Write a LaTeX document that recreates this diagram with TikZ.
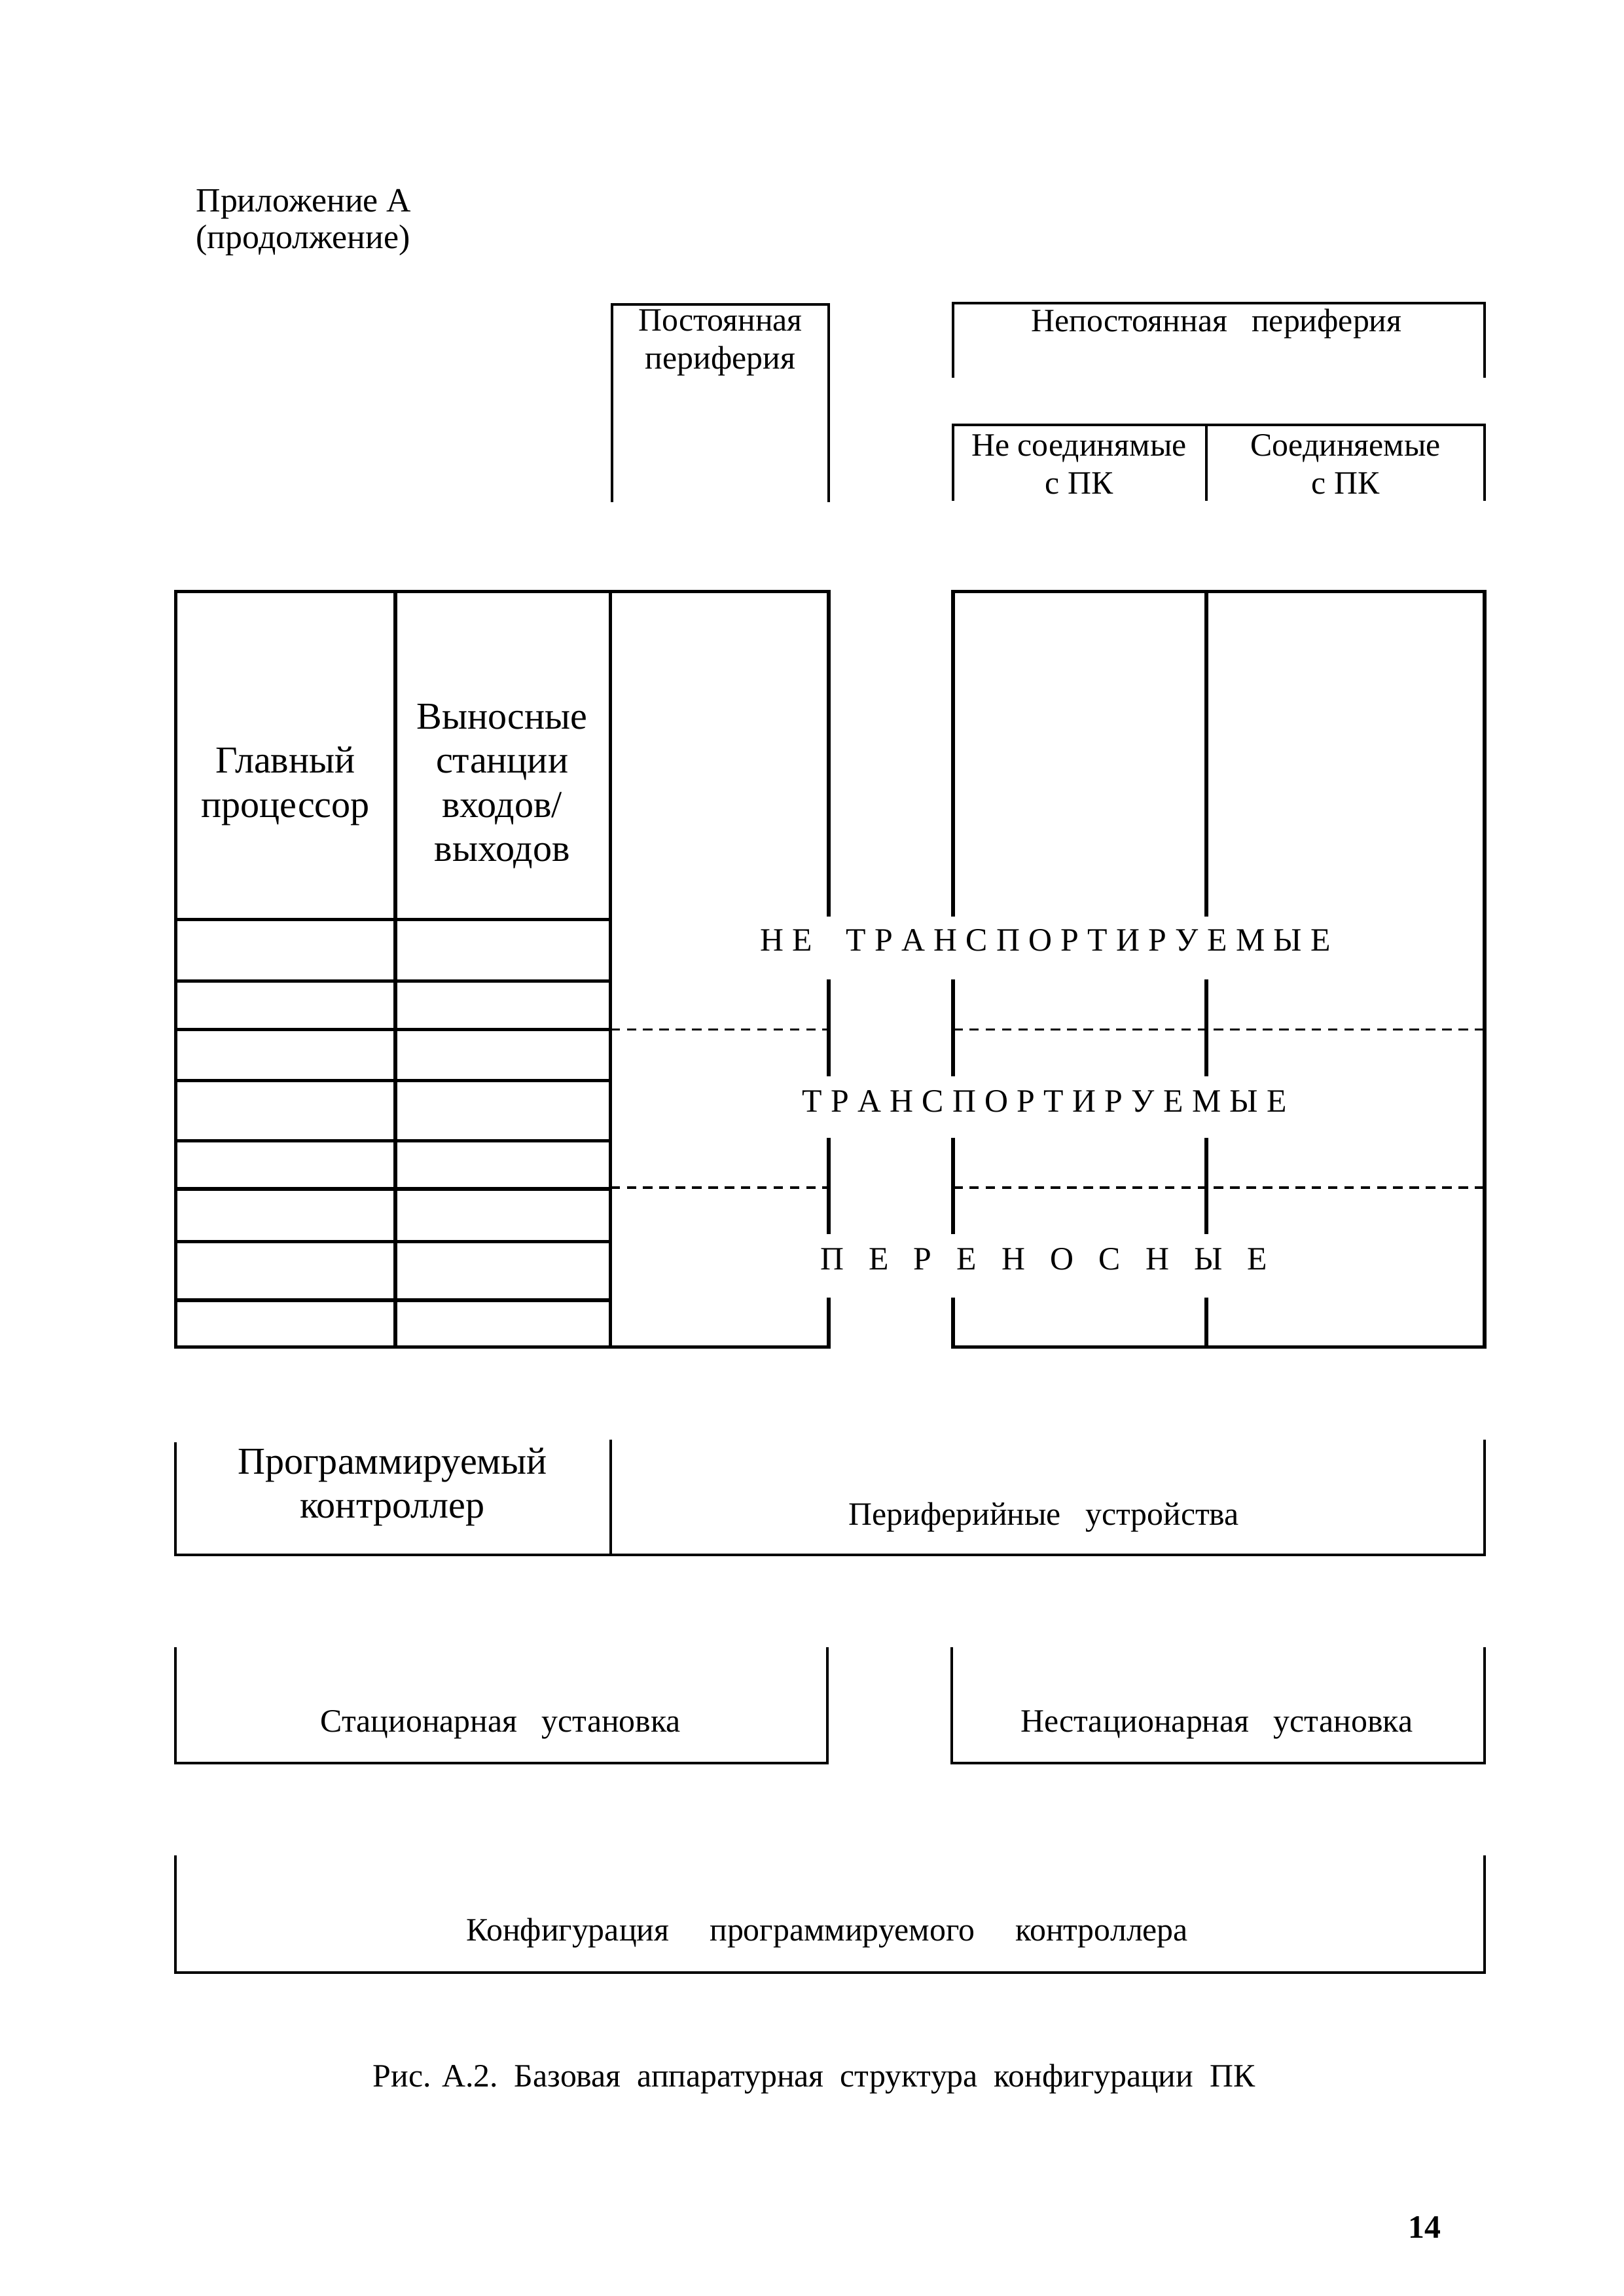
\documentclass[tikz,border=0pt]{standalone}
\usepackage{fontspec}
\setmainfont{Liberation Serif}
\newcommand\gA{\kern3.2pt}
\newcommand\gB{\kern9.2pt}
\begin{document}
\begin{tikzpicture}[x=0.5389pt,y=-0.5389pt,line width=1pt,
  txt/.style={inner sep=0pt,align=center,font=\fontsize{12}{14}\selectfont},
  big/.style={inner sep=0pt,align=center,font=\fontsize{14}{16.3}\selectfont},
  grid/.style={line width=1.3pt},
  dsh/.style={line width=0.8pt,dash pattern=on 3.5pt off 2.5pt}]
\useasboundingbox (0,0) rectangle (1109,1568);
\fill[white] (0,0) rectangle (1109,1568);

% heading
\node[inner sep=0pt,anchor=west,align=left,font=\fontsize{12.5}{13.5}\selectfont] (app) at (133,152) {Приложение А\\(продолжение)};

% top boxes
\draw (418,343) -- (418,208) -- (566,208) -- (566,343);
\node[txt] (post) at (492,234) {Постоянная\\периферия};
\draw (651,258) -- (651,207) -- (1014,207) -- (1014,258);
\node[txt] (nepost) at (831,221) {Непостоянная\ \ \ периферия};
\draw (651,342) -- (651,290) -- (1014,290) -- (1014,342);
\draw (824,290) -- (824,342);
\node[txt] (nesoed) at (737,317) {Не соединямые\\с ПК};
\node[txt] (soed) at (919,317) {Соединяемые\\с ПК};

% main grid: left block
\draw[grid] (566,626) -- (566,404) -- (120,404) -- (120,920) -- (566,920) -- (566,886);
\draw[grid] (566,669) -- (566,735) (566,777) -- (566,843);
\draw[grid] (270,404) -- (270,920) (417,404) -- (417,920);
\foreach \yy in {628,670,703,738,779,812,848,888}
  \draw[grid] (120,\yy) -- (417,\yy);
\node[big] (glav) at (195,537) {Главный\\процессор};
\node[big] (vyn) at (343,537) {Выносные\\станции\\входов/\\выходов};

% main grid: right block
\draw[grid] (651,626) -- (651,404) -- (1014,404) -- (1014,920) -- (651,920) -- (651,886);
\draw[grid] (651,669) -- (651,735) (651,777) -- (651,843);
\draw[grid] (824,404) -- (824,626) (824,669) -- (824,735) (824,777) -- (824,843) (824,886) -- (824,920);

% dashed separators
\draw[dsh] (417,703) -- (566,703) (651,703) -- (1014,703);
\draw[dsh] (417,811) -- (566,811) (651,811) -- (1014,811);

% category labels
\node[txt] (nt) at (714,642) {Н\gA Е\hspace{12.5pt}Т\gA Р\gA А\gA Н\gA С\gA П\gA О\gA Р\gA Т\gA И\gA Р\gA У\gA Е\gA М\gA Ы\gA Е};
\node[txt] (tr) at (713.5,752) {Т\gA Р\gA А\gA Н\gA С\gA П\gA О\gA Р\gA Т\gA И\gA Р\gA У\gA Е\gA М\gA Ы\gA Е};
\node[txt] (per) at (713,860) {П\gB Е\gB Р\gB Е\gB Н\gB О\gB С\gB Н\gB Ы\gB Е};

% PC / peripherals
\draw (120,985) -- (120,1062) -- (1014,1062) -- (1014,983);
\draw (417,983) -- (417,1062);
\node[big] (pk) at (268,1015.5) {Программируемый\\контроллер};
\node[txt] (perif) at (713,1036) {Периферийные\ \ \ устройства};

% installations
\draw (120,1125) -- (120,1204) -- (565,1204) -- (565,1125);
\node[txt] (stac) at (342,1178) {Стационарная\ \ \ установка};
\draw (650,1125) -- (650,1204) -- (1014,1204) -- (1014,1125);
\node[txt] (nestac) at (831,1178) {Нестационарная\ \ \ установка};

% configuration
\draw (120,1267) -- (120,1347) -- (1014,1347) -- (1014,1267);
\node[txt] (konf) at (565,1320) {Конфигурация\hspace{15pt}программируемого\hspace{15pt}контроллера};

% caption and page number
\node[txt] (cap) at (556,1420) {Рис. А.2.\ \ Базовая\ \ аппаратурная\ \ структура\ \ конфигурации\ \ ПК};
\node[txt,font=\fontsize{12}{14}\selectfont\bfseries] (pg) at (973,1521) {14};
\end{tikzpicture}
\end{document}
